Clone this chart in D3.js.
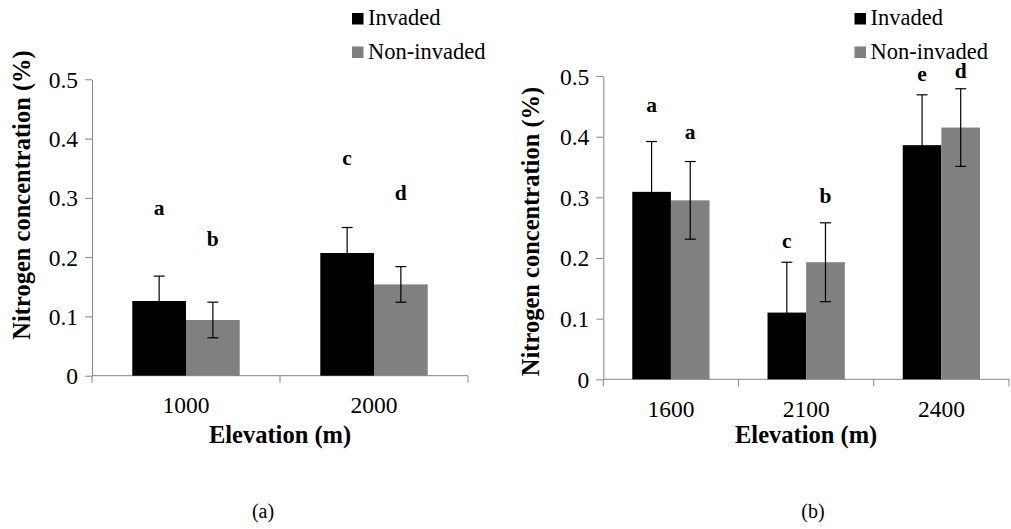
<!DOCTYPE html>
<html>
<head>
<meta charset="utf-8">
<script src="https://cdn.jsdelivr.net/npm/d3@7"></script>
<style>
  body { margin: 0; background: #fff; }
  svg { display: block; }
</style>
</head>
<body>
<div id="chart"></div>
<script>
// panel (a)
var catsA = ["1000", "2000"];
var invadedA = [0.126, 0.207];
var nonInvadedA = [0.094, 0.154];
var invadedErrA = [0.042, 0.043];
var nonInvadedErrA = [0.030, 0.030];
var letterInvA = ["a", "c"];
var letterNonA = ["b", "d"];
var letterInvPosA = [0.271, 0.355];
var letterNonPosA = [0.218, 0.297];

// panel (b)
var catsB = ["1600", "2100", "2400"];
var invadedB = [0.309, 0.110, 0.386];
var nonInvadedB = [0.295, 0.193, 0.415];
var invadedErrB = [0.083, 0.083, 0.083];
var nonInvadedErrB = [0.064, 0.065, 0.064];
var letterInvB = ["a", "c", "e"];
var letterNonB = ["a", "b", "d"];
var letterInvPosB = [0.441, 0.217, 0.491];
var letterNonPosB = [0.396, 0.291, 0.496];

var yTicks = [0, 0.1, 0.2, 0.3, 0.4, 0.5];
var seriesNames = ["Invaded", "Non-invaded"];
var seriesColors = ["#000000", "#808080"];

var width = 1011, height = 529;
var axisColor = "#868686";
var serif = "'Liberation Serif'";

var svg = d3.select("#chart").append("svg")
    .attr("width", width)
    .attr("height", height);

function txt(sel, size, bold) {
  return sel.style("font-family", serif)
      .style("font-size", size + "px")
      .style("font-weight", bold ? "bold" : "normal")
      .attr("fill", "#000");
}

function drawPanel(cfg) {
  var g = svg.append("g");
  var x = d3.scaleBand().domain(cfg.cats).range([cfg.left, cfg.right]);
  var y = d3.scaleLinear().domain([0, 0.5]).range([cfg.bottom, cfg.top]);
  var bw = x.bandwidth() / 3.5;  // excel gap width 150%

  // y axis
  var yAxis = d3.axisLeft(y)
      .tickValues(yTicks)
      .tickSize(7)
      .tickSizeOuter(0)
      .tickPadding(7)
      .tickFormat(function (d) { return d === 0 ? "0" : d.toFixed(1); });
  var ya = g.append("g")
      .attr("transform", "translate(" + cfg.left + ",0)")
      .call(yAxis);
  ya.select(".domain").attr("stroke", axisColor);
  ya.selectAll(".tick line").attr("stroke", axisColor);
  txt(ya.selectAll(".tick text"), 23.5).attr("dy", "0.34em");

  // x axis line + ticks at band edges
  g.append("line")
      .attr("x1", cfg.left).attr("x2", cfg.right)
      .attr("y1", y(0)).attr("y2", y(0))
      .attr("stroke", axisColor);
  var edges = cfg.cats.map(function (c) { return x(c); }).concat([cfg.right]);
  g.selectAll(".xtick").data(edges).enter().append("line")
      .attr("x1", function (d) { return d; })
      .attr("x2", function (d) { return d; })
      .attr("y1", y(0)).attr("y2", y(0) + 7)
      .attr("stroke", axisColor);
  txt(g.selectAll(".xlab").data(cfg.cats).enter().append("text")
      .attr("x", function (d) { return x(d) + x.bandwidth() / 2; })
      .attr("y", y(0) + 37.5)
      .attr("text-anchor", "middle")
      .text(function (d) { return d; }), 23.5);

  // bars
  var series = [
    {vals: cfg.inv, err: cfg.invErr, letters: cfg.letInv, lpos: cfg.letInvPos, off: 0},
    {vals: cfg.non, err: cfg.nonErr, letters: cfg.letNon, lpos: cfg.letNonPos, off: 1}
  ];
  series.forEach(function (s, si) {
    var bx = function (i) { return x(cfg.cats[i]) + x.bandwidth() / 2 - bw + s.off * bw; };
    g.selectAll(".bar" + si).data(s.vals).enter().append("rect")
        .attr("x", function (d, i) { return bx(i); })
        .attr("y", function (d) { return y(d); })
        .attr("width", bw)
        .attr("height", function (d) { return y(0) - y(d); })
        .attr("fill", seriesColors[si]);

    // error bars
    var eb = g.selectAll(".err" + si).data(s.vals).enter().append("g");
    eb.append("line")
        .attr("x1", function (d, i) { return bx(i) + bw / 2; })
        .attr("x2", function (d, i) { return bx(i) + bw / 2; })
        .attr("y1", function (d, i) { return y(d + s.err[i]); })
        .attr("y2", function (d, i) { return y(d - s.err[i]); })
        .attr("stroke", "#000").attr("stroke-width", 1.2);
    [1, -1].forEach(function (sign) {
      eb.append("line")
          .attr("x1", function (d, i) { return bx(i) + bw / 2 - 5.5; })
          .attr("x2", function (d, i) { return bx(i) + bw / 2 + 5.5; })
          .attr("y1", function (d, i) { return y(d + sign * s.err[i]); })
          .attr("y2", function (d, i) { return y(d + sign * s.err[i]); })
          .attr("stroke", "#000").attr("stroke-width", 1.2);
    });

    // significance letters
    txt(g.selectAll(".let" + si).data(s.letters).enter().append("text")
        .attr("x", function (d, i) { return bx(i) + bw / 2; })
        .attr("y", function (d, i) { return y(s.lpos[i]); })
        .attr("text-anchor", "middle")
        .text(function (d) { return d; }), 21.5, true);
  });

  // axis titles
  txt(g.append("text")
      .attr("transform", "translate(" + cfg.yTitleX + "," + cfg.yTitleY + ") rotate(-90)")
      .attr("text-anchor", "middle")
      .text("Nitrogen concentration (%)"), 24.5, true);
  txt(g.append("text")
      .attr("x", (cfg.left + cfg.right) / 2)
      .attr("y", 443)
      .attr("text-anchor", "middle")
      .text("Elevation (m)"), 24.5, true);

  // legend
  var lg = g.append("g");
  seriesNames.forEach(function (n, i) {
    lg.append("rect")
        .attr("x", cfg.legendX)
        .attr("y", 13 + i * 33.5)
        .attr("width", 11.5).attr("height", 11.5)
        .attr("fill", seriesColors[i]);
    txt(lg.append("text")
        .attr("x", cfg.legendX + 16)
        .attr("y", 25 + i * 33.5)
        .text(n), 22.5);
  });

  // panel label
  txt(g.append("text")
      .attr("x", cfg.labelX)
      .attr("y", 518)
      .attr("text-anchor", "middle")
      .text(cfg.label), 20);
}

drawPanel({
  cats: catsA, inv: invadedA, non: nonInvadedA, invErr: invadedErrA, nonErr: nonInvadedErrA,
  letInv: letterInvA, letNon: letterNonA, letInvPos: letterInvPosA, letNonPos: letterNonPosA,
  left: 92, right: 468, top: 79.3, bottom: 375.7,
  yTitleX: 29.5, yTitleY: 195, legendX: 352, labelX: 263, label: "(a)"
});

drawPanel({
  cats: catsB, inv: invadedB, non: nonInvadedB, invErr: invadedErrB, nonErr: nonInvadedErrB,
  letInv: letterInvB, letNon: letterNonB, letInvPos: letterInvPosB, letNonPos: letterNonPosB,
  left: 603.3, right: 1009, top: 76, bottom: 379.3,
  yTitleX: 538.5, yTitleY: 231.5, legendX: 854.5, labelX: 813, label: "(b)"
});
</script>
</body>
</html>
